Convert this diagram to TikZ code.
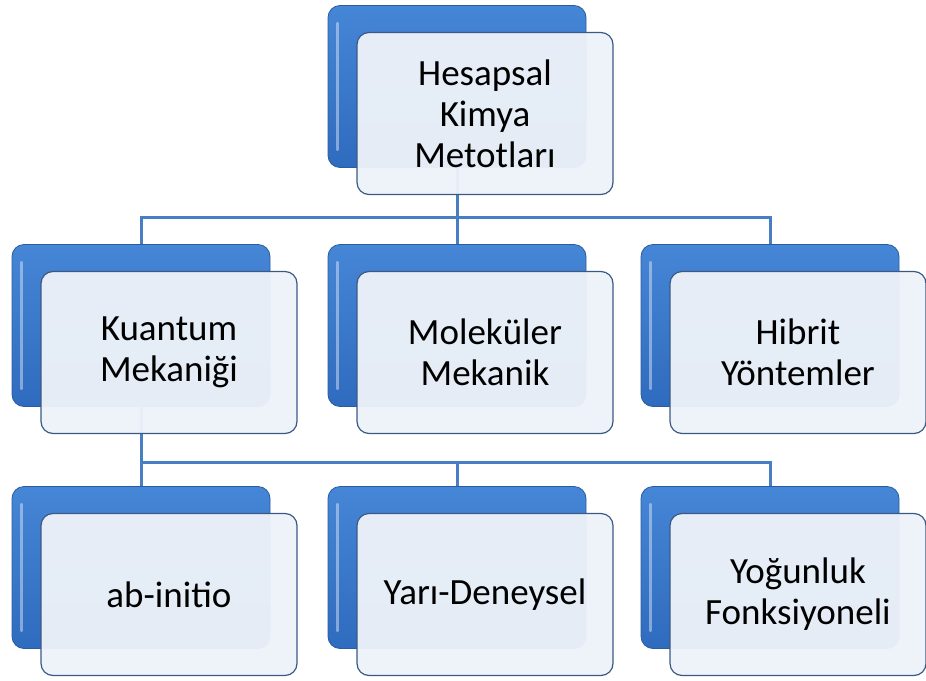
\documentclass[tikz,border=0pt]{standalone}
\usepackage{fontspec}
\setmainfont{Carlito}
\definecolor{backtop}{HTML}{4686D6}
\definecolor{backbot}{HTML}{2F6BBE}
\definecolor{backedge}{HTML}{2A5C9E}
\definecolor{frontfill}{HTML}{EDF2F9}
\definecolor{frontedge}{HTML}{3A5A85}
\definecolor{connblue}{HTML}{4A7EC2}
\tikzset{
  backbox/.style={rounded corners=12pt, minimum width=258pt, minimum height=162pt, inner sep=0pt,
    draw=backedge, line width=0.8pt, top color=backtop, bottom color=backbot},
  frontbox/.style={rounded corners=12pt, minimum width=256pt, minimum height=162pt, inner sep=0pt,
    draw=frontedge, line width=1.2pt, fill=frontfill, fill opacity=0.96, text opacity=1,
    align=center, text=black, font=\fontsize{37}{41}\selectfont},
  conn/.style={draw=connblue, line width=3pt},
  shine/.style={draw=white, draw opacity=0.4, line width=2.5pt, line cap=round}
}
\begin{document}
\begin{tikzpicture}[x=1pt,y=-1pt]
\useasboundingbox (0,0) rectangle (926,680);
% junctions
\coordinate (j1) at (457,217);
\coordinate (j2) at (141,462);
% back boxes
\node[backbox] (tb) at (457,86.5) {};
\node[backbox] (kb) at (141,325.5) {};
\node[backbox] (mb) at (457,325.5) {};
\node[backbox] (hb) at (770,325.5) {};
\node[backbox] (ab) at (141,567.5) {};
\node[backbox] (yb) at (457,567.5) {};
\node[backbox] (fb) at (770,567.5) {};
% connectors
\draw[conn] (tb.south) -- (j1);
\draw[conn] (j1) -| (kb.north);
\draw[conn] (j1) -- (mb.north);
\draw[conn] (j1) -| (hb.north);
\draw[conn] (kb.south) -- (j2);
\draw[conn] (j2) -- (ab.north);
\draw[conn] (j2) -| (yb.north);
\draw[conn] (j2) -| (fb.north);
% shine stripes on back boxes
\foreach \n in {tb,kb,mb,hb,ab,yb,fb}{
  \draw[shine] ([xshift=10pt,yshift=-18pt]\n.north west) -- ([xshift=10pt,yshift=18pt]\n.south west);
}
% front boxes
\node[frontbox] (t) at (485,113.5) {Hesapsal\\Kimya\\Metotları};
\node[frontbox] (k) at (169,352.5) {Kuantum\\Mekaniği};
\node[frontbox] (m) at (485,352.5) {Moleküler\\Mekanik};
\node[frontbox] (h) at (798,352.5) {Hibrit\\Yöntemler};
\node[frontbox] (a) at (169,594.5) {ab-initio};
\node[frontbox] (y) at (485,594.5) {Yarı-Deneysel};
\node[frontbox] (f) at (798,594.5) {Yoğunluk\\Fonksiyoneli};
\end{tikzpicture}
\end{document}
